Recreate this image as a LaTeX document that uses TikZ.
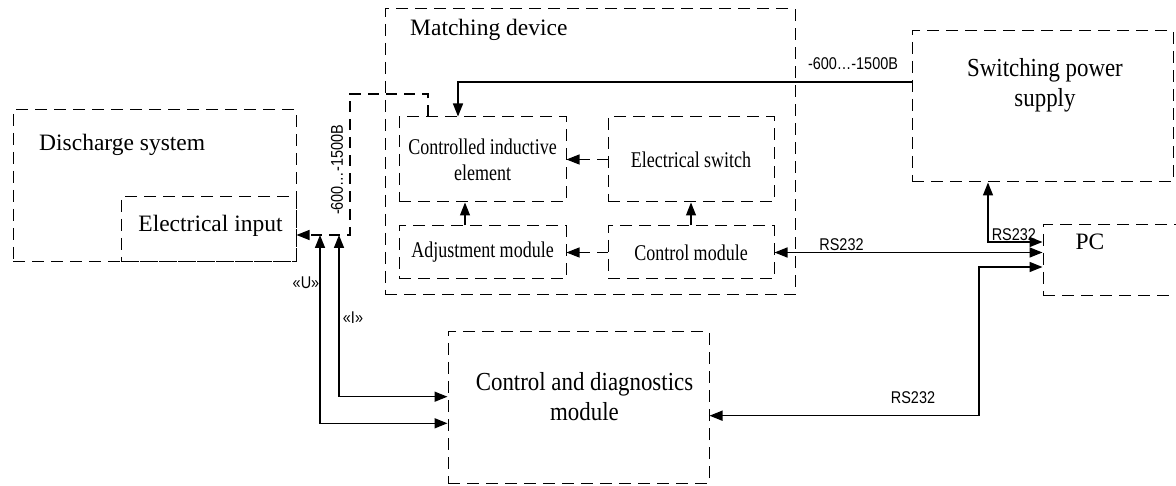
\documentclass[tikz,border=0pt]{standalone}
\usepackage{fontspec}
\setmainfont{Liberation Serif}
\newfontfamily\boxsmall[FakeStretch=0.8]{Liberation Serif}
\newfontfamily\boxbig[FakeStretch=0.88]{Liberation Serif}
\newfontfamily\sanslab[FakeStretch=0.85]{Liberation Sans}
\usetikzlibrary{arrows.meta}
\begin{document}
\begin{tikzpicture}[x=1pt,y=-1pt,
  dbox/.style={draw, dash pattern=on 12pt off 7pt, line width=1pt, inner sep=0pt, align=center},
  sz/.style 2 args={minimum width=#1pt, minimum height=#2pt},
  conn/.style={line width=1.5pt},
  dconn/.style={line width=1.1pt, dash pattern=on 11pt off 7pt},
  tipend/.style={-{Triangle[length=13pt,width=10pt]}},
  tipboth/.style={{Triangle[length=13pt,width=10pt]}-{Triangle[length=13pt,width=10pt]}},
  fbig/.style={font=\fontsize{23.5}{27}\selectfont},
  fsmall/.style={font=\fontsize{22.5}{26}\boxsmall},
  fbox/.style={font=\fontsize{26}{30}\boxbig},
  fsans/.style={font=\fontsize{17}{19}\sanslab},
]
\path[use as bounding box, fill=white] (0,0) rectangle (1176,486);

% boxes
\node[dbox, sz={283}{152}] (ds) at (154.5,186) {};
\node[dbox, sz={175}{65}] (ei) at (208.5,229.5) {};
\node[dbox, sz={410}{286}] (md) at (590,152) {};
\node[dbox, sz={167}{85}, fsmall] (cie) at (482.5,159.5) {Controlled inductive\\element};
\node[dbox, sz={166}{85}, fsmall] (es) at (691,159.5) {Electrical switch};
\node[dbox, sz={167}{53}, fsmall] (am) at (482.5,252.5) {Adjustment module};
\node[dbox, sz={166}{53}, fsmall] (cm) at (691,252.5) {Control module};
\node[dbox, sz={261}{151}] (sps) at (1042.5,106.5) {};
\node[dbox, sz={150}{71}] (pc) at (1118,260.5) {};
\node[dbox, sz={261}{151}] (cdm) at (578.5,407.5) {};

% box texts
\node[fbig, anchor=west, inner sep=0pt] (dstext) at (39,145) {Discharge system};
\node[fbig, inner sep=0pt] (eitext) at (210.5,226) {Electrical input};
\node[fbig, anchor=west, inner sep=0pt] (mdtext) at (410,30) {Matching device};
\node[fbox, align=center, inner sep=0pt] (spstext) at (1045,85) {Switching power\\supply};
\node[fbig, inner sep=0pt] (pctext) at (1090,242) {PC};
\node[fbox, align=center, inner sep=0pt] (cdmtext) at (584.5,397) {Control and diagnostics\\module};

% helper coordinates
\coordinate (bend1) at (350,94);
\coordinate (utip) at (320,235);
\coordinate (itip) at (339,235);
\coordinate (jog) at (979,330);

% power line from switching power supply
\draw[conn, tipend] ([yshift=24.5pt]sps.west) -| ([xshift=-24.5pt]cie.north);
% dashed line from controlled inductive element to electrical input
\draw[dconn, tipend] ([xshift=-54.5pt]cie.north) |- (bend1) |- ([yshift=-5.5pt]ei.east);
% internal links
\draw[dconn, tipend] (es.west) -- (cie.east);
\draw[dconn, tipend] (cm.west) -- (am.east);
\draw[dconn, tipend] ([xshift=-17.5pt]am.north) -- ([xshift=-17.5pt]cie.south);
\draw[dconn, tipend] (cm.north) -- (es.south);
% U and I
\draw[conn, tipboth] ([yshift=-15.8pt]cdm.west) -| (utip);
\draw[conn, tipboth] ([yshift=10.8pt]cdm.west) -| (itip);
% RS232 links
\draw[conn, tipboth] (cm.east) -- (cm.east -| pc.west)
  node[fsans, pos=0.25, above, inner sep=1pt] (rs1) {RS232};
\draw[conn, tipboth] ([xshift=-54.5pt]sps.south) |- ([yshift=18.5pt]pc.west)
  node[fsans, pos=0.5, anchor=south west, inner sep=1pt, xshift=2pt] (rs2) {RS232};
\draw[conn, tipboth] ([yshift=-8.2pt]cdm.east) -| (jog) |- ([yshift=-6.5pt]pc.west);
\node[fsans, inner sep=0pt] (rs3) at (913,398) {RS232};

% labels
\node[fsans, inner sep=0pt] (vlab1) at (853,64) {-600\ldots-1500B};
\node[fsans, inner sep=0pt, rotate=90] (vlab2) at (337,170) {-600\ldots-1500B};
\node[fsans, inner sep=0pt] (ulab) at (306,283) {«U»};
\node[fsans, inner sep=0pt] (ilab) at (353,318) {«I»};
\end{tikzpicture}
\end{document}
